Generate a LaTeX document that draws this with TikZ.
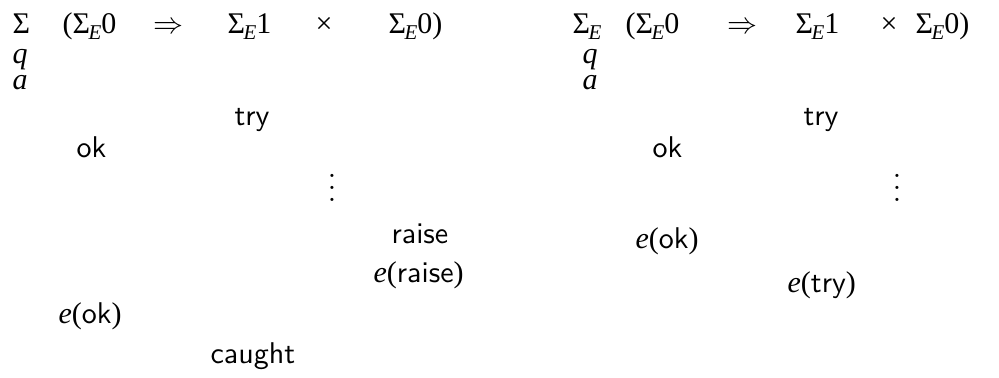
\documentclass[tikz,border=0pt]{standalone}
\usepackage{fontspec}
\newfontfamily\tms{Liberation Serif}
\newcommand{\tmsub}[1]{\hbox{\tms#1}}
\newcommand{\SigE}{\tmsub{Σ}\kern-0.5pt\raisebox{-2pt}{\fontsize{7}{8}\selectfont\tms\itshape E}}
\begin{document}
\begin{tikzpicture}[x=0.33333pt,y=-0.33333pt,
  lbl/.style={inner sep=0pt,anchor=base west,font=\tms},
  dts/.style={inner sep=0pt,anchor=base}]
\useasboundingbox (0,0) rectangle (999,377);
% left panel
\node[lbl] (l1) at (12,33) {Σ};
\node[lbl] (l2) at (62,33) {(\SigE 0};
\node[lbl] (l3) at (153,33) {$\Rightarrow$};
\node[lbl] (l4) at (227,33) {\SigE 1};
\node[lbl] (l5) at (315,33) {×};
\node[lbl] (l6) at (388,33) {\SigE 0)};
\node[lbl] (lq) at (12,63) {\itshape q};
\node[lbl] (la) at (12,89) {\itshape a};
\node[lbl] (ltry) at (234,125) {\sffamily try};
\node[lbl] (lok) at (76,157) {\sffamily ok};
\node[dts] (ldots) at (332,201) {$\vdots$};
\node[lbl] (lraise) at (391,243) {\sffamily raise};
\node[lbl] (leraise) at (373,282) {\textit{e}(\textsf{raise})};
\node[lbl] (leok) at (58,323) {\textit{e}(\textsf{ok})};
\node[lbl] (lcaught) at (210,363) {\sffamily caught};
% right panel
\node[lbl] (r1) at (572,33) {\SigE};
\node[lbl] (r2) at (625,33) {(\SigE 0};
\node[lbl] (r3) at (727,33) {$\Rightarrow$};
\node[lbl] (r4) at (795,33) {\SigE 1};
\node[lbl] (r5) at (880,33) {×};
\node[lbl] (r6) at (915,33) {\SigE 0)};
\node[lbl] (rq) at (582,63) {\itshape q};
\node[lbl] (ra) at (582,89) {\itshape a};
\node[lbl] (rtry) at (803,125) {\sffamily try};
\node[lbl] (rok) at (652,157) {\sffamily ok};
\node[dts] (rdots) at (897,201) {$\vdots$};
\node[lbl] (reok) at (635,248) {\textit{e}(\textsf{ok})};
\node[lbl] (retry) at (787,292) {\textit{e}(\textsf{try})};
\end{tikzpicture}
\end{document}
